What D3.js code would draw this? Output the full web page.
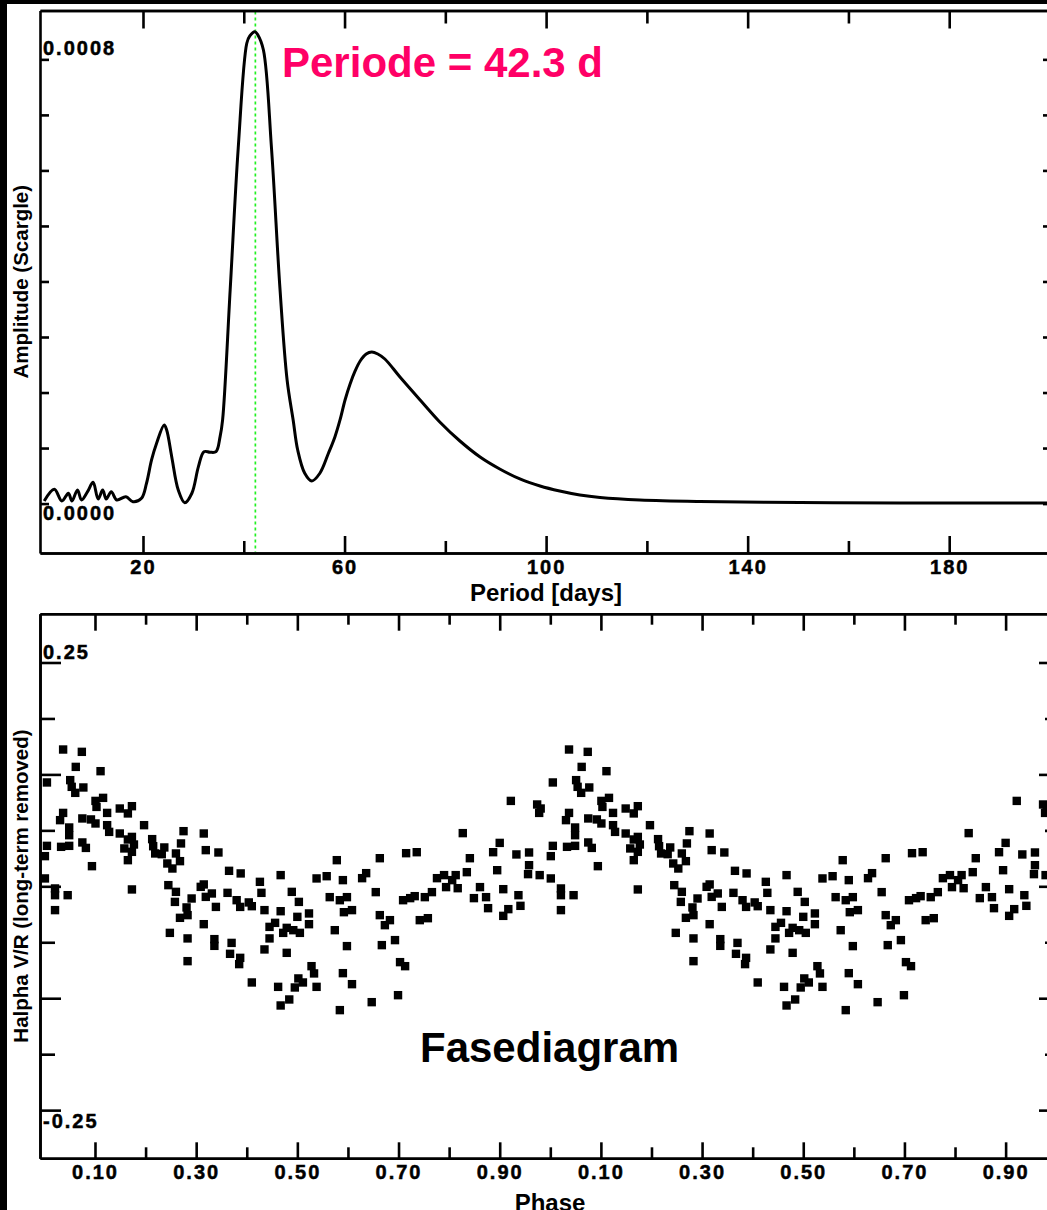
<!DOCTYPE html>
<html><head><meta charset="utf-8">
<script src="https://cdn.jsdelivr.net/npm/d3@7"></script>
<style>
html,body{margin:0;padding:0;background:#000;overflow:hidden;}
svg{display:block;}
text{font-family:"Liberation Sans",Arial,Helvetica,sans-serif;font-weight:bold;}
</style></head><body>
<svg id="c" width="1047" height="1210"></svg>
<script>
// ---------- DATA ----------
const periods = [0.4,2.4,3.9,5.2,5.9,7.0,7.8,9.0,10.1,11.1,12.0,12.7,13.7,14.8,16.6,18.0,19.7,20.7,21.7,22.7,24.2,24.7,25.7,27.0,28.3,29.7,31.0,32.1,33.3,34.5,35.3,35.8,37.3,38.9,40.6,41.2,42.2,42.8,43.9,45.5,47.2,48.6,49.8,50.7,52.1,53.5,55.1,56.8,58.1,59.1,60.1,61.1,62.1,63.1,64.3,65.4,66.6,68.0,71.0,75.0,78.9,82.9,86.9,90.8,94.8,98.8,102.7,106.7,110.7,118.6,130.5,150.4,170.2,200.0];
const amplitudes = [0.0000047,0.0000258,0.0000047,0.0000186,0.0000047,0.0000245,0.0000065,0.0000214,0.0000384,0.0000083,0.0000245,0.0000083,0.0000214,0.0000065,0.0000124,0.0000034,0.0000095,0.0000366,0.0000785,0.0001086,0.0001416,0.0001326,0.0000845,0.0000245,0.0000016,0.0000186,0.0000665,0.0000935,0.0000924,0.0000935,0.0001205,0.0001506,0.0003847,0.0006404,0.0008290,0.0008421,0.0008499,0.0008440,0.0008169,0.0006404,0.0003847,0.0002226,0.0001506,0.0000965,0.0000546,0.0000407,0.0000546,0.0000906,0.0001205,0.0001506,0.0001866,0.0002154,0.0002388,0.0002568,0.0002694,0.0002730,0.0002694,0.0002604,0.0002280,0.0001866,0.0001470,0.0001127,0.0000839,0.0000623,0.0000443,0.0000317,0.0000227,0.0000155,0.0000110,0.0000065,0.0000038,0.0000020,0.0000011,0.0000011];
const bestPeriod = 42.3;

const phases = [0.037,0.074,0.062,0.111,0.005,0.051,0.054,0.077,0.061,0.101,
0.116,0.103,0.149,0.173,0.165,0.037,0.031,0.124,0.075,0.092,
0.101,0.049,0.049,0.124,0.128,0.149,0.173,0.197,0.275,0.315,
0.270,0.213,0.215,0.219,0.237,0.232,0.260,0.268,0.243,0.253,
0.319,0.344,0.005,0.033,0.049,0.075,0.082,0.158,0.177,0.173,
0.165,0.001,0.165,0.094,0.001,0.021,0.021,0.046,0.021,0.173,
0.245,0.260,0.258,0.291,0.281,0.283,0.268,0.309,0.315,0.319,
0.331,0.339,0.315,0.248,0.283,0.336,0.336,0.283,0.365,0.388,
0.362,0.380,0.387,0.404,0.410,0.370,0.367,0.387,0.385,0.410,
0.426,0.429,0.435,0.467,0.489,0.503,0.467,0.500,0.523,0.523,
0.445,0.456,0.472,0.479,0.492,0.505,0.445,0.435,0.479,0.528,
0.533,0.502,0.511,0.495,0.462,0.538,0.484,0.467,0.538,0.558,
0.922,0.933,0.958,0.958,0.956,0.979,0.907,0.937,0.917,0.907,0.941,0.974,0.981,0.978,0.900,
0.578,0.590,0.564,0.584,0.598,0.592,0.608,0.574,0.598,0.590,0.608,0.584,0.628,0.636,0.647,0.663,0.655,0.663,0.673,0.683,0.667,0.693,0.703,0.713,0.699,0.715,0.736,0.709,0.723,0.732,0.742,0.758,0.752,0.766,0.776,0.790,0.794,0.806,0.813,0.817,0.827,0.835,0.841,0.849,0.861,0.873,0.877,0.887,0.895];
const vrValues = [0.1528,0.1502,0.1334,0.1286,0.1160,0.1186,0.1111,0.1104,0.1044,0.0954,
0.0988,0.0887,0.0869,0.0895,0.0814,0.0820,0.0739,0.0820,0.0758,0.0747,
0.0702,0.0657,0.0571,0.0683,0.0608,0.0590,0.0552,0.0683,0.0616,0.0590,
0.0479,0.0527,0.0448,0.0367,0.0434,0.0359,0.0367,0.0281,0.0255,0.0199,
0.0404,0.0378,0.0452,0.0441,0.0452,0.0490,0.0429,0.0423,0.0467,0.0385,
0.0523,0.0337,0.0292,0.0225,0.0088,-0.0024,-0.0099,-0.0099,-0.0266,-0.0035,
0.0013,-0.0062,-0.0174,-0.0136,-0.0236,-0.0322,-0.0352,-0.0006,0.0021,-0.0118,
-0.0080,-0.0230,-0.0423,-0.0520,-0.0582,-0.0590,-0.0665,-0.0836,0.0173,0.0144,
-0.0073,-0.0155,-0.0230,-0.0180,-0.0222,-0.0632,-0.0754,-0.0799,-0.0869,-0.1074,
0.0050,-0.0073,-0.0266,0.0125,-0.0062,-0.0174,-0.0278,-0.0341,-0.0303,-0.0423,
-0.0453,-0.0408,-0.0520,-0.0464,-0.0490,-0.0520,-0.0582,-0.0705,-0.0743,-0.0892,
-0.0973,-0.1029,-0.1074,-0.1130,-0.1123,-0.1123,-0.1264,-0.1331,0.0088,0.0113,
0.0954,0.0356,0.0378,0.0236,0.0136,0.0125,-0.0032,-0.0099,-0.0255,-0.0330,-0.0218,0.0914,0.0869,0.0820,0.0485,
0.0292,0.0069,-0.0121,-0.0155,-0.0121,-0.0289,-0.0266,-0.0490,-0.0668,-0.0970,-0.1093,-0.1383,0.0091,0.0147,-0.1294,0.0314,-0.0065,-0.0322,-0.0434,-0.0378,-0.0657,-0.0601,-0.0847,-0.0892,-0.1216,0.0370,0.0381,-0.0155,-0.0132,-0.0110,-0.0378,-0.0356,-0.0121,-0.0065,0.0091,0.0125,-0.0009,0.0069,0.0125,-0.0021,0.0594,0.0158,0.0314,-0.0132,-0.0009,-0.0121,-0.0244,0.0381,0.0180];

const periodMajorTicks = [20,60,100,140,180];
const periodMinorTicks = [40,80,120,160];
const ampTicks = [0,0.0001,0.0002,0.0003,0.0004,0.0005,0.0006,0.0007,0.0008];
const ampLabels = [0.0008,0];
const phaseMajorTicks = [0.1,0.3,0.5,0.7,0.9,1.1,1.3,1.5,1.7,1.9];
const phaseMinorTicks = [0.2,0.4,0.6,0.8,1.0,1.2,1.4,1.6,1.8];
const vrMajorTicks = [-0.25,-0.125,0,0.125,0.25];
const vrMinorTicks = [-0.1875,-0.0625,0.0625,0.1875];
const vrLabels = [0.25,-0.25];

// ---------- DRAW ----------
const svg = d3.select("#c");
svg.append("rect").attr("x",7).attr("y",4).attr("width",1040).attr("height",1206).attr("fill","#fff");

const FONT = '"Liberation Sans",Arial,Helvetica,sans-serif';
function styleAxis(g){
  g.attr("font-family",FONT).attr("font-size",20).attr("font-weight","bold");
  g.selectAll(".domain").attr("stroke","#000").attr("stroke-width",2.6);
  g.selectAll(".tick line").attr("stroke","#000").attr("stroke-width",2.6);
  g.selectAll(".tick text").attr("fill","#000").attr("stroke","#000").attr("stroke-width",0.5).style("letter-spacing","2px");
}

// ===== Top: periodogram =====
const T = {l:40, r:1052, t:10.5, b:553};
const xP = d3.scaleLinear().domain([-0.44,200.4]).range([T.l,T.r]);
const yA = d3.scaleLinear().domain([-0.000089,0.000888]).range([T.b,T.t]);

const gTop = svg.append("g");
gTop.append("line")
  .attr("x1",xP(bestPeriod)).attr("x2",xP(bestPeriod))
  .attr("y1",T.t+1).attr("y2",T.b-1)
  .attr("stroke","#22f022").attr("stroke-width",1.7).attr("stroke-dasharray","3,3");

const pdata = periods.map((p,i)=>[p,amplitudes[i]]);
gTop.append("path").datum(pdata)
  .attr("fill","none").attr("stroke","#000").attr("stroke-width",3)
  .attr("stroke-linejoin","round")
  .attr("d", d3.line().x(d=>xP(d[0])).y(d=>yA(d[1])).curve(d3.curveCatmullRom.alpha(0.5)));

gTop.append("g").attr("transform",`translate(0,${T.b})`)
  .call(d3.axisBottom(xP).tickValues(periodMajorTicks).tickSize(-17).tickSizeOuter(0).tickPadding(7).tickFormat(d3.format("d"))).call(styleAxis);
gTop.append("g").attr("transform",`translate(0,${T.b})`)
  .call(d3.axisBottom(xP).tickValues(periodMinorTicks).tickSize(-12).tickSizeOuter(0).tickFormat("")).call(styleAxis);
gTop.append("g").attr("transform",`translate(0,${T.t})`)
  .call(d3.axisTop(xP).tickValues(periodMajorTicks).tickSize(-18).tickSizeOuter(0).tickFormat("")).call(styleAxis);
gTop.append("g").attr("transform",`translate(0,${T.t})`)
  .call(d3.axisTop(xP).tickValues(periodMinorTicks).tickSize(-13).tickSizeOuter(0).tickFormat("")).call(styleAxis);
gTop.append("g").attr("transform",`translate(${T.l},0)`)
  .call(d3.axisLeft(yA).tickValues(ampTicks).tickSize(-9).tickSizeOuter(0).tickFormat("")).call(styleAxis);
gTop.append("g").attr("transform",`translate(${T.r},0)`)
  .call(d3.axisRight(yA).tickValues(ampTicks).tickSize(-9).tickSizeOuter(0).tickFormat("")).call(styleAxis);

gTop.selectAll("text.ylab").data(ampLabels).join("text").attr("class","ylab")
  .attr("x",T.l+3).attr("y",d=> d>0 ? yA(d)-4 : yA(d)+16.5)
  .attr("font-size",20).style("letter-spacing","2px").attr("fill","#000").attr("stroke","#000").attr("stroke-width",0.5)
  .text(d=>d.toFixed(4));

gTop.append("text").attr("x",282).attr("y",77).attr("font-size",42).attr("fill","#ff0066")
  .text(`Periode = ${bestPeriod} d`);
gTop.append("text").attr("x",(T.l+T.r)/2).attr("y",601).attr("text-anchor","middle").attr("font-size",24)
  .text("Period [days]");
gTop.append("text").attr("transform",`translate(28,${(T.t+T.b)/2}) rotate(-90)`).attr("text-anchor","middle").attr("font-size",20.5)
  .text("Amplitude (Scargle)");

// ===== Bottom: phase diagram =====
const B = {l:40, r:1060, t:613.7, b:1158.3};
const xF = d3.scaleLinear().domain([-0.0087,2.0075]).range([B.l,B.r]);
const yV = d3.scaleLinear().domain([-0.3038,0.3045]).range([B.b,B.t]);
const gBot = svg.append("g");

const pts = [];
phases.forEach((p,i)=>{ pts.push([p,vrValues[i]]); pts.push([p+1,vrValues[i]]); });
const S = 8.4;
gBot.selectAll("rect.pt").data(pts).join("rect").attr("class","pt")
  .attr("x",d=>xF(d[0])-S/2).attr("y",d=>yV(d[1])-S/2).attr("width",S).attr("height",S).attr("fill","#000");

const phaseFmt = d => (d % 1).toFixed(2);
gBot.append("g").attr("transform",`translate(0,${B.b})`)
  .call(d3.axisBottom(xF).tickValues(phaseMajorTicks).tickSize(-16).tickSizeOuter(0).tickPadding(7).tickFormat(phaseFmt)).call(styleAxis);
gBot.append("g").attr("transform",`translate(0,${B.b})`)
  .call(d3.axisBottom(xF).tickValues(phaseMinorTicks).tickSize(-11).tickSizeOuter(0).tickFormat("")).call(styleAxis);
gBot.append("g").attr("transform",`translate(0,${B.t})`)
  .call(d3.axisTop(xF).tickValues(phaseMajorTicks).tickSize(-17).tickSizeOuter(0).tickFormat("")).call(styleAxis);
gBot.append("g").attr("transform",`translate(0,${B.t})`)
  .call(d3.axisTop(xF).tickValues(phaseMinorTicks).tickSize(-11).tickSizeOuter(0).tickFormat("")).call(styleAxis);
gBot.append("g").attr("transform",`translate(${B.l},0)`)
  .call(d3.axisLeft(yV).tickValues(vrMajorTicks).tickSize(-21).tickSizeOuter(0).tickFormat("")).call(styleAxis);
gBot.append("g").attr("transform",`translate(${B.l},0)`)
  .call(d3.axisLeft(yV).tickValues(vrMinorTicks).tickSize(-15).tickSizeOuter(0).tickFormat("")).call(styleAxis);
gBot.append("g").attr("transform",`translate(${B.r},0)`)
  .call(d3.axisRight(yV).tickValues(vrMajorTicks).tickSize(-21).tickSizeOuter(0).tickFormat("")).call(styleAxis);
gBot.append("g").attr("transform",`translate(${B.r},0)`)
  .call(d3.axisRight(yV).tickValues(vrMinorTicks).tickSize(-15).tickSizeOuter(0).tickFormat("")).call(styleAxis);

gBot.selectAll("text.ylab").data(vrLabels).join("text").attr("class","ylab")
  .attr("x",B.l+3).attr("y",d=> d>0 ? yV(d)-3 : yV(d)+18)
  .attr("font-size",20).style("letter-spacing","2px").attr("fill","#000").attr("stroke","#000").attr("stroke-width",0.5)
  .text(d=>d.toFixed(2));

gBot.append("text").attr("x",420).attr("y",1062).attr("font-size",42).text("Fasediagram");
gBot.append("text").attr("x",(B.l+B.r)/2).attr("y",1211).attr("text-anchor","middle").attr("font-size",24).text("Phase");
gBot.append("text").attr("transform",`translate(28,${(B.t+B.b)/2}) rotate(-90)`).attr("text-anchor","middle").attr("font-size",20.5)
  .text("Halpha V/R (long-term removed)");
</script>
</body></html>
